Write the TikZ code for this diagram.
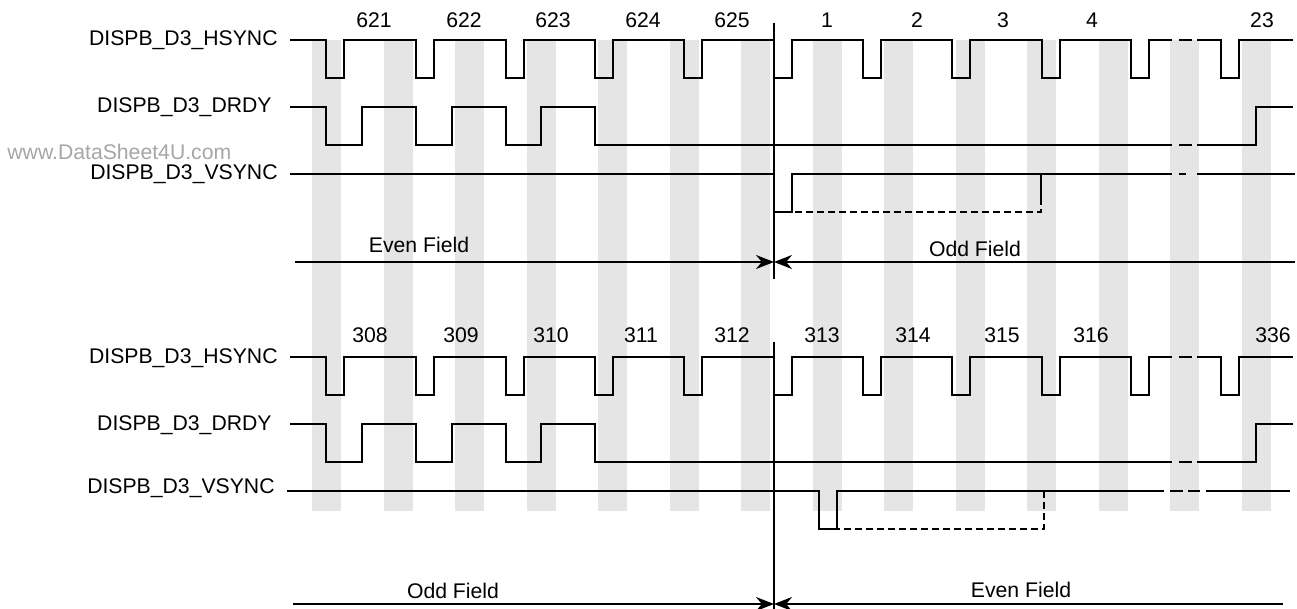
\documentclass[tikz,border=0pt]{standalone}
\usepackage{fontspec}
\setmainfont{Liberation Sans}
\usetikzlibrary{arrows.meta}

\begin{document}
\begin{tikzpicture}[
    x=0.5pt, y=-0.5pt,
    font=\fontsize{10.6}{12.5}\selectfont, >={Stealth[length=9pt,width=7pt]},
    bar/.style={fill=black!10},
    sig/.style={line width=1pt},
    dsig/.style={line width=1pt, dash pattern=on 3.5pt off 2pt},
    lbl/.style={anchor=base east, inner sep=0pt},
    num/.style={anchor=base, inner sep=0pt},
    field/.style={->, line width=1pt}
]
    \useasboundingbox (0,0) rectangle (1297,609);
    % shaded line columns
    \foreach \x in {312,383.5,...,1242} \fill[bar] (\x,40) rectangle +(29,471);
    % HSYNC and DRDY, same in both fields
    \foreach \dy in {0,317} {
      \begin{scope}[shift={(0,\dy)}]
        \draw[sig] (290,40) \foreach \f in {326,416,506,595,684,774,863,952,1042,1131} { -- (\f,40) -- (\f,78) -- (\f+18,78) -- (\f+18,40) }
            -- (1172,40) (1179,40) -- (1192,40) (1197,40) -- (1221,40) -- (1221,78) -- (1239,78) -- (1239,40) -- (1293,40);
        \draw[sig] (290,107) -- (326,107) -- (326,145) -- (362,145) -- (362,107) -- (416,107) -- (416,145) -- (452,145) -- (452,107)
            -- (506,107) -- (506,145) -- (541,145) -- (541,107) -- (595,107) -- (595,145) -- (1172,145)
            (1179,145) -- (1192,145) (1197,145) -- (1256,145) -- (1256,107) -- (1293,107);
      \end{scope}
    }
    % top: even to odd field
    \node[anchor=base west, inner sep=0pt, text=black!35] (wmark) at (7,160) {www.DataSheet4U.com};
    \node[lbl] (hsA) at (278,46) {DISPB\_D3\_HSYNC};
    \node[lbl] (drA) at (272,113) {DISPB\_D3\_DRDY};
    \node[lbl] (vsA) at (278,180) {DISPB\_D3\_VSYNC};
    \foreach \n/\x in {621/374,622/464,623/553,624/643,625/732,1/827,2/917,3/1003,4/1092,23/1262}
        \node[num] (lnA\n) at (\x,28) {\n};
    \draw[sig] (290,174) -- (774,174) -- (774,212) -- (792,212) -- (792,174) -- (1172,174) (1179,174) -- (1186,174) (1197,174) -- (1295,174);
    \draw[sig] (1041,174) -- (1041,198);
    \draw[dsig] (1041,198) -- (1041,212) -- (792,212);
    \coordinate (divA1) at (774,23);
    \coordinate (divA2) at (774,279);
    \draw[sig] (divA1) -- (divA2);
    \coordinate (evenA) at (295,262);
    \coordinate (midA) at (774,262);
    \coordinate (oddA) at (1295,262);
    \draw[field] (evenA) -- (midA);
    \draw[field] (oddA) -- (midA);
    \node[num] (evenAtxt) at (419,253) {Even Field};
    \node[num] (oddAtxt) at (975,257) {Odd Field};
    % bottom: odd to even field
    \node[lbl] (hsB) at (278,364) {DISPB\_D3\_HSYNC};
    \node[lbl] (drB) at (272,430) {DISPB\_D3\_DRDY};
    \node[lbl] (vsB) at (275,494) {DISPB\_D3\_VSYNC};
    \foreach \n/\x in {308/370,309/461,310/551,311/641,312/732,313/822,314/913,315/1002,316/1091,336/1273}
        \node[num] (lnB\n) at (\x,343) {\n};
    \draw[sig] (287,491) -- (819,491) -- (819,529) -- (837,529) -- (837,491) -- (1164,491) (1170,491) -- (1183,491)
        (1188,491) -- (1200,491) (1206,491) -- (1290,491);
    \draw[dsig] (1044,491) -- (1044,529) -- (837,529);
    \coordinate (divB1) at (774,342);
    \coordinate (divB2) at (774,609);
    \draw[sig] (divB1) -- (divB2);
    \coordinate (oddB) at (293,604);
    \coordinate (midB) at (774,604);
    \coordinate (evenB) at (1283,604);
    \draw[field] (oddB) -- (midB);
    \draw[field] (evenB) -- (midB);
    \node[num] (oddBtxt) at (453,598) {Odd Field};
    \node[num] (evenBtxt) at (1021,597) {Even Field};
\end{tikzpicture}
\end{document}
